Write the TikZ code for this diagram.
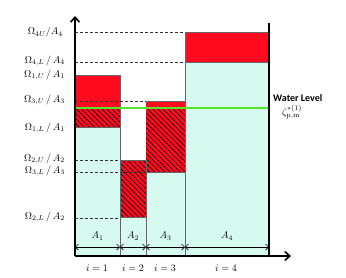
\documentclass[tikz,border=0pt]{standalone}
\usepackage{fontspec}
\newfontfamily\labelfont{Carlito}
\usetikzlibrary{arrows.meta,patterns.meta}
\definecolor{watercyan}{HTML}{D6FAF0}
\definecolor{storered}{HTML}{FF0A1E}
\definecolor{levelgreen}{HTML}{55E52A}

\begin{document}
\begin{tikzpicture}[
  x=1pt, y=-1pt,
  wet/.style={fill=watercyan},
  full/.style={fill=storered},
  hatch/.style={fill=storered, postaction={pattern={Lines[angle=-45,distance=3.6pt,line width=0.6pt]}, pattern color=black}},
  box/.style={draw=black!60, line width=0.8pt},
  lvl/.style={dashed, dash pattern=on 3pt off 2pt, line width=0.7pt, draw=black!80},
  axis/.style={line width=1.6pt, -{Straight Barb[length=5pt,width=9pt]}},
  dim/.style={line width=0.6pt, {Straight Barb[length=3pt,width=6pt]}-{Straight Barb[length=3pt,width=6pt]}},
  lab/.style={anchor=east, inner sep=1pt},
]
  \useasboundingbox (0,0) rectangle (346,277);

  % columns
  \fill[wet] (75,127) rectangle (120,256);
  \fill[full] (75,75) rectangle (120,108);
  \path[hatch] (75,108) rectangle (120,127);
  \fill[wet] (120,217) rectangle (146,256);
  \path[hatch] (120,160) rectangle (146,217);
  \fill[wet] (146,172) rectangle (185,256);
  \fill[full] (146,101) rectangle (185,108);
  \path[hatch] (146,108) rectangle (185,172);
  \fill[wet] (185,62) rectangle (269,256);
  \fill[full] (185,32) rectangle (269,62);
  \draw[box] (75,256) |- (120,75) -- (120,256);
  \draw[box] (120,160) -- (146,160) -- (146,256);
  \draw[box] (146,101) -- (185,101) -- (185,256);
  \draw[box] (185,256) |- (269,32);
  \draw[box] (75,127) -- (120,127);
  \draw[box] (120,217) -- (146,217);
  \draw[box] (146,172) -- (185,172);
  \draw[box] (185,62) -- (269,62);

  % levels
  \draw[lvl] (75,32) -- (185,32);
  \draw[lvl] (75,62) -- (185,62);
  \draw[lvl] (75,101) -- (146,101);
  \draw[lvl] (75,160) -- (120,160);
  \draw[lvl] (75,172) -- (146,172);
  \draw[lvl] (75,218) -- (120,218);
  \draw[levelgreen, line width=2.4pt] (75,108) -- (269,108);

  % axes
  \coordinate (o) at (75,256);
  \draw[axis] (o) -- (75,16);
  \draw[axis] (o) -- (291,256);
  \draw[line width=1.3pt] (269,23) -- (269,256);

  \node[lab] (l4u) at (64,32) {$\Omega_{4U}/A_4$};
  \node[lab] (l4l) at (66,61) {$\Omega_{4,L}\,/\,A_4$};
  \node[lab] (l1u) at (66,75) {$\Omega_{1,U}\,/\,A_1$};
  \node[lab] (l3u) at (66,100) {$\Omega_{3,U}\,/\,A_3$};
  \node[lab] (l1l) at (66,128) {$\Omega_{1,L}\,/\,A_1$};
  \node[lab] (l2u) at (66,159) {$\Omega_{2,U}\,/\,A_2$};
  \node[lab] (l3l) at (66,171) {$\Omega_{3,L}\,/\,A_3$};
  \node[lab] (l2l) at (66,217) {$\Omega_{2,L}\,/\,A_2$};

  \node[anchor=west, font=\labelfont\bfseries, inner sep=1pt] (wlab) at (272,98) {Water Level};
  \node[inner sep=0pt] (zeta) at (292,112) {$\zeta^{*(1)}_{\mathrm{p,m}}$};

  % widths
  \coordinate (e0) at (75,247);
  \coordinate (e1) at (120,247);
  \coordinate (e2) at (146,247);
  \coordinate (e3) at (185,247);
  \coordinate (e4) at (269,247);
  \draw[dim] (e0) -- node[above=3pt] (a1) {$A_1$} (e1);
  \draw[dim] (e1) -- node[above=3pt] (a2) {$A_2$} (e2);
  \draw[dim] (e2) -- node[above=3pt] (a3) {$A_3$} (e3);
  \draw[dim] (e3) -- node[above=3pt] (a4) {$A_4$} (e4);

  \node (i1) at (97,268) {$i=1$};
  \node (i2) at (133,268) {$i=2$};
  \node (i3) at (165,268) {$i=3$};
  \node (i4) at (226,268) {$i=4$};
\end{tikzpicture}
\end{document}
